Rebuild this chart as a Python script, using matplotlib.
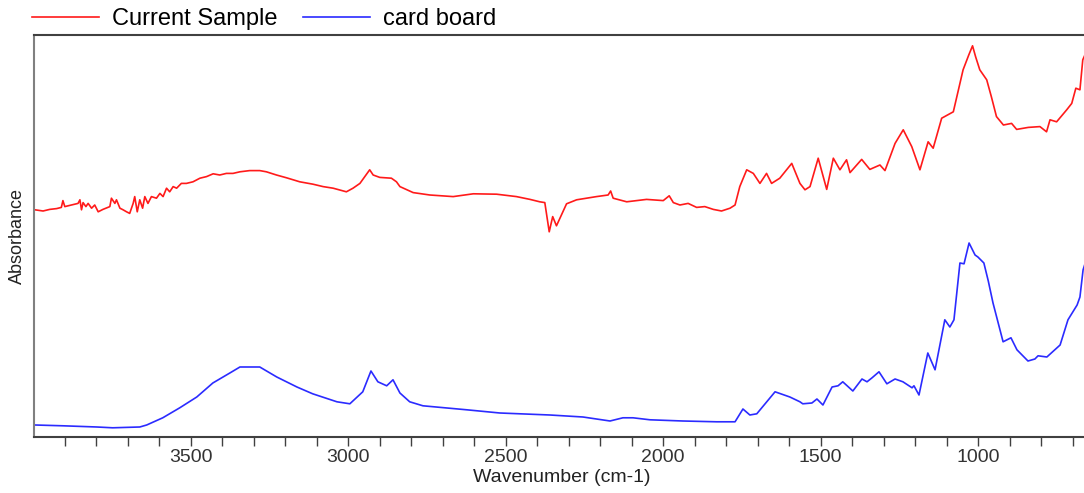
import numpy as np
import matplotlib
matplotlib.use('Agg')
import matplotlib.pyplot as plt
from matplotlib.ticker import MultipleLocator

plt.rcParams['font.family'] = ['Liberation Sans', 'DejaVu Sans'] #arial-like font

#current sample spectrum (wavenumber in cm-1, absorbance in arbitrary units)
sample_wavenumber = [3995, 3969, 3948, 3926, 3911, 3906, 3900, 3879, 3858, 3852, 3847, 3842, 3833, 3826, 3815,
                     3805, 3794, 3779, 3757, 3752, 3741, 3736, 3725, 3715, 3704, 3694, 3683, 3678, 3670, 3662,
                     3653, 3646, 3636, 3625, 3609, 3598, 3588, 3577, 3567, 3556, 3545, 3530, 3514, 3493, 3471,
                     3450, 3429, 3408, 3387, 3366, 3344, 3313, 3281, 3260, 3228, 3196, 3154, 3112, 3080, 3048,
                     3006, 2985, 2963, 2932, 2921, 2900, 2863, 2847, 2836, 2794, 2741, 2667, 2603, 2529, 2466,
                     2423, 2392, 2376, 2362, 2351, 2339, 2307, 2275, 2212, 2175, 2167, 2159, 2116, 2085, 2053,
                     2000, 1981, 1968, 1947, 1921, 1894, 1868, 1841, 1815, 1788, 1772, 1757, 1735, 1714, 1693,
                     1672, 1656, 1630, 1592, 1566, 1550, 1534, 1508, 1481, 1460, 1439, 1418, 1407, 1370, 1344,
                     1312, 1296, 1264, 1238, 1211, 1185, 1159, 1143, 1116, 1079, 1065, 1048, 1030, 1018, 1008,
                     995, 973, 958, 942, 920, 894, 878, 841, 804, 783, 772, 751, 719, 703, 690, 677, 668, 650]
sample_absorbance = [0.568, 0.565, 0.569, 0.571, 0.574, 0.591, 0.576, 0.580, 0.584, 0.593, 0.568, 0.586, 0.576, 0.584, 0.572,
                     0.580, 0.563, 0.569, 0.576, 0.597, 0.584, 0.593, 0.572, 0.568, 0.563, 0.559, 0.584, 0.601, 0.563, 0.593,
                     0.572, 0.601, 0.584, 0.601, 0.597, 0.609, 0.601, 0.622, 0.613, 0.626, 0.622, 0.634, 0.634, 0.638, 0.647,
                     0.651, 0.658, 0.655, 0.659, 0.659, 0.663, 0.666, 0.666, 0.663, 0.655, 0.648, 0.638, 0.632, 0.626, 0.622,
                     0.613, 0.622, 0.634, 0.668, 0.655, 0.649, 0.647, 0.638, 0.626, 0.611, 0.605, 0.601, 0.608, 0.607, 0.601,
                     0.594, 0.588, 0.586, 0.513, 0.551, 0.528, 0.583, 0.593, 0.601, 0.605, 0.615, 0.597, 0.588, 0.591, 0.594,
                     0.591, 0.603, 0.586, 0.580, 0.584, 0.574, 0.576, 0.569, 0.565, 0.572, 0.580, 0.626, 0.668, 0.659, 0.634,
                     0.659, 0.634, 0.647, 0.684, 0.634, 0.618, 0.626, 0.697, 0.619, 0.697, 0.668, 0.693, 0.661, 0.694, 0.669,
                     0.680, 0.666, 0.734, 0.768, 0.726, 0.668, 0.738, 0.722, 0.797, 0.813, 0.860, 0.918, 0.955, 0.978, 0.950,
                     0.918, 0.893, 0.850, 0.801, 0.780, 0.784, 0.769, 0.774, 0.776, 0.763, 0.793, 0.788, 0.818, 0.834, 0.872,
                     0.868, 0.943, 0.975]

#card board reference spectrum
board_wavenumber = [3995, 3906, 3798, 3748, 3662, 3640, 3589, 3535, 3481, 3430, 3376, 3344, 3281, 3227, 3163,
                    3113, 3036, 2995, 2954, 2928, 2906, 2878, 2858, 2836, 2805, 2763, 2624, 2519, 2360, 2255,
                    2169, 2128, 2096, 2042, 1938, 1830, 1772, 1747, 1725, 1703, 1645, 1598, 1566, 1557, 1528,
                    1512, 1493, 1464, 1445, 1430, 1398, 1369, 1353, 1337, 1315, 1290, 1264, 1239, 1210, 1204,
                    1188, 1160, 1137, 1106, 1090, 1077, 1058, 1045, 1029, 1010, 1001, 982, 968, 953, 921, 896,
                    877, 842, 820, 810, 782, 740, 715, 686, 677, 667, 650]
board_absorbance = [0.030, 0.028, 0.025, 0.023, 0.025, 0.030, 0.048, 0.073, 0.100, 0.135, 0.160, 0.175, 0.175, 0.150, 0.125,
                    0.108, 0.088, 0.083, 0.113, 0.165, 0.138, 0.128, 0.143, 0.110, 0.088, 0.078, 0.068, 0.060, 0.055, 0.050,
                    0.040, 0.048, 0.048, 0.043, 0.040, 0.038, 0.038, 0.070, 0.055, 0.058, 0.113, 0.100, 0.088, 0.083, 0.085,
                    0.095, 0.080, 0.125, 0.128, 0.138, 0.115, 0.145, 0.138, 0.148, 0.163, 0.133, 0.145, 0.138, 0.123, 0.128,
                    0.105, 0.210, 0.168, 0.293, 0.275, 0.293, 0.435, 0.433, 0.485, 0.455, 0.450, 0.435, 0.390, 0.335, 0.238,
                    0.248, 0.218, 0.190, 0.195, 0.203, 0.200, 0.230, 0.293, 0.330, 0.350, 0.418, 0.460]

series_names = ['Current Sample', 'card board']
series_colors = ['#ff1a1a', '#2b2bff']

fig = plt.figure(figsize=(10.84, 4.93), dpi=100) #same pixel size as the reference
ax = fig.add_axes([0.0316, 0.1136, 0.9725, 0.8154]) #right side runs just past the picture edge

ax.plot(sample_wavenumber, sample_absorbance, color=series_colors[0], lw=1.2, label=series_names[0]) #sample spectrum
ax.plot(board_wavenumber, board_absorbance, color=series_colors[1], lw=1.2, label=series_names[1]) #reference spectrum

ax.set_xlim(3997, 650) #wavenumber axis runs high to low, 4000 itself is not labelled
ax.set_ylim(0, 1.005)
ax.xaxis.set_major_locator(MultipleLocator(500))
ax.xaxis.set_minor_locator(MultipleLocator(100))
ax.tick_params(axis='x', which='both', direction='out', length=6.5, width=1.0, color='#404040', pad=2)
ax.tick_params(axis='x', which='major', labelsize=14, labelcolor='#333333')
ax.set_yticks([]) #no y ticks on the absorbance axis

for side in ['top', 'bottom']:
    ax.spines[side].set_color('#404040')
    ax.spines[side].set_linewidth(1.5)
ax.spines['left'].set_color('#808080')
ax.spines['left'].set_linewidth(1.5)
ax.spines['right'].set_visible(False)

ax.set_xlabel('Wavenumber (cm-1)', fontsize=14, color='#222222', labelpad=2)
ax.set_ylabel('Absorbance', fontsize=13, color='#222222', labelpad=6)

fig.legend(loc='center left', bbox_to_anchor=(32 / 1084, 1 - 19 / 493), ncol=2, frameon=False,
           fontsize=17, handlelength=2.85, handletextpad=0.55, columnspacing=1.05, borderpad=0,
           borderaxespad=0) #legend sits above the plot box

fig.savefig('out.png', dpi=100)
